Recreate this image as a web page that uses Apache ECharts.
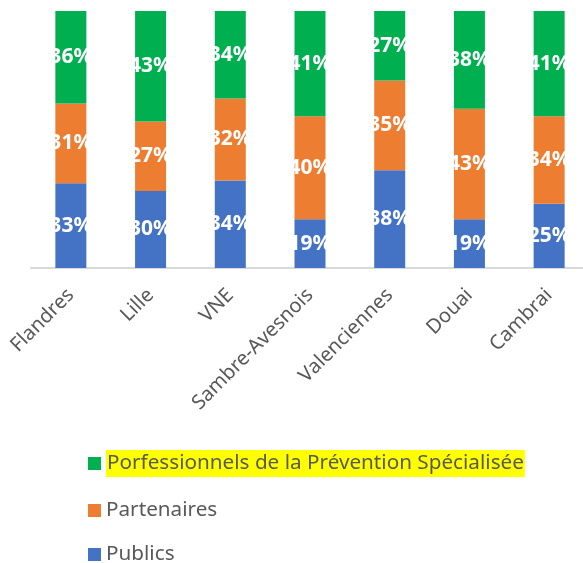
<!DOCTYPE html>
<html>
<head>
<meta charset="utf-8">
<script src="https://cdn.jsdelivr.net/npm/echarts@6/dist/echarts.min.js"></script>
<style>
  html, body { margin: 0; padding: 0; background: #fff; }
  #chart { width: 583px; height: 563px; }
</style>
</head>
<body>
<div id="chart"></div>
<script>
// categories (territoires)
var categories = ['Flandres', 'Lille', 'VNE', 'Sambre-Avesnois', 'Valenciennes', 'Douai', 'Cambrai'];

// parts en %
var publics = [33, 30, 34, 19, 38, 19, 25];
var partenaires = [31, 27, 32, 40, 35, 43, 34];
var professionnels = [36, 43, 34, 41, 27, 38, 41];

var seriesNames = ['Publics', 'Partenaires', 'Porfessionnels de la Prévention Spécialisée'];
var colors = ['#4472c4', '#ed7d31', '#00b050'];

var font = '"Noto Sans", "Open Sans", sans-serif';

function barSeries(name, data, color) {
    return {
        name: name,
        type: 'bar',
        stack: 'total',
        barWidth: 31,
        data: data,
        itemStyle: { color: color },
        label: {
            show: true,
            position: 'inside',
            formatter: '{c}%',
            color: '#fff',
            fontFamily: font,
            fontWeight: 'bold',
            fontSize: 21,
            textBorderWidth: 0
        }
    };
}

function oneLegend(name, top) {
    return {
        data: [name],
        left: 83,
        top: top,
        icon: 'rect',
        itemWidth: 13,
        itemHeight: 13,
        selectedMode: false,
        textStyle: {
            color: '#595959',
            fontFamily: font,
            fontSize: 20.7,
            rich: {
                hl: {
                    backgroundColor: '#ffff00',
                    color: '#595959',
                    fontFamily: font,
                    fontSize: 20.7,
                    padding: [3, 1, 3, 1]
                }
            }
        },
        formatter: function (n) {
            return n === seriesNames[2] ? '{hl|' + n + '}' : n;
        }
    };
}

var chartDom = document.getElementById('chart');
var chart = echarts.init(chartDom);

var option = {
    animation: false,
    backgroundColor: '#fff',
    grid: { left: 31, top: 11, width: 558, bottom: 295, containLabel: false, outerBoundsMode: 'none' },
    legend: [
        oneLegend(seriesNames[2], 445),
        oneLegend(seriesNames[1], 495),
        oneLegend(seriesNames[0], 539)
    ],
    xAxis: {
        type: 'category',
        data: categories,
        axisLine: { lineStyle: { color: '#d9d9d9', width: 2 } },
        axisTick: { show: false },
        axisLabel: {
            rotate: 45,
            interval: 0,
            margin: 24,
            color: '#595959',
            fontFamily: font,
            fontSize: 20
        }
    },
    yAxis: {
        type: 'value',
        min: 0,
        max: 100,
        show: false,
        splitLine: { show: false }
    },
    series: [
        barSeries(seriesNames[0], publics, colors[0]),
        barSeries(seriesNames[1], partenaires, colors[1]),
        barSeries(seriesNames[2], professionnels, colors[2])
    ]
};

chart.setOption(option);
</script>
</body>
</html>
